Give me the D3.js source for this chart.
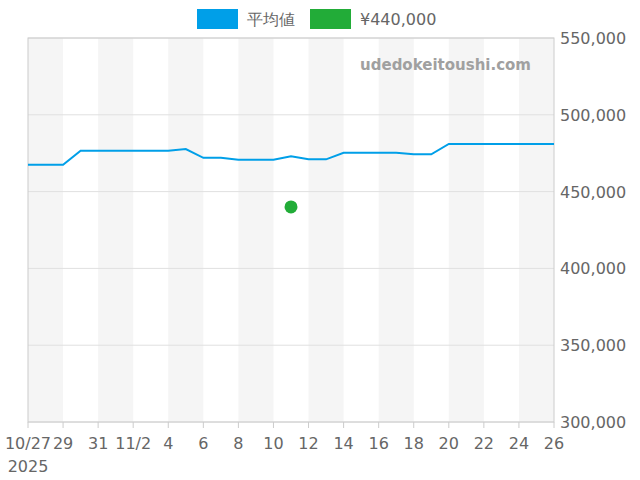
<!DOCTYPE html><html><head><meta charset="utf-8"><script src="https://cdn.jsdelivr.net/npm/d3@7"></script>
<style>body{margin:0}text{font-family:"DejaVu Sans",sans-serif}</style></head><body><svg width="640" height="480"></svg><script>
const dates=["2025-10-27","2025-10-28","2025-10-29","2025-10-30","2025-10-31","2025-11-01","2025-11-02","2025-11-03","2025-11-04","2025-11-05","2025-11-06","2025-11-07","2025-11-08","2025-11-09","2025-11-10","2025-11-11","2025-11-12","2025-11-13","2025-11-14","2025-11-15","2025-11-16","2025-11-17","2025-11-18","2025-11-19","2025-11-20","2025-11-21","2025-11-22","2025-11-23","2025-11-24","2025-11-25","2025-11-26"];
const avg=[467500,467500,467500,476600,476600,476600,476600,476600,476600,477700,472000,472000,470800,470800,470800,473000,471000,471000,475300,475300,475300,475300,474300,474300,481000,481000,481000,481000,481000,481000,481000];
const pointDate="2025-11-11", pointVal=440000;
const yTicks=[300000,350000,400000,450000,500000,550000];
const p=d3.timeParse("%Y-%m-%d");
const svg=d3.select("svg");
const L=28,R=554,T=38,B=422;
const x=d3.scaleTime().domain([p(dates[0]),p(dates[dates.length-1])]).range([L,R]);
const y=d3.scaleLinear().domain([300000,550000]).range([B,T]);
const tickDates=dates.filter((d,i)=>i%2==0).map(p);
for(let i=0;i<tickDates.length-1;i+=2){
 svg.append("rect").attr("x",x(tickDates[i])).attr("y",T).attr("width",x(tickDates[i+1])-x(tickDates[i])).attr("height",B-T).attr("fill","#f5f5f5");
}
yTicks.forEach(v=>svg.append("line").attr("x1",L).attr("x2",R).attr("y1",y(v)).attr("y2",y(v)).attr("stroke","#e0e0e0"));
svg.append("rect").attr("x",L).attr("y",T).attr("width",R-L).attr("height",B-T).attr("fill","none").attr("stroke","#ccc");
const fmt=d3.format(",");
yTicks.forEach(v=>svg.append("text").attr("x",R+6).attr("y",y(v)+6).attr("font-size",16).attr("fill","#666").text(fmt(v)));
tickDates.forEach((d,i)=>{
 svg.append("line").attr("x1",x(d)).attr("x2",x(d)).attr("y1",B).attr("y2",B+6).attr("stroke","#ccc");
 const lab=i==0?"10/27":(d.getDate()==2&&d.getMonth()==10?"11/2":String(d.getDate()));
 svg.append("text").attr("x",x(d)).attr("y",B+27).attr("text-anchor","middle").attr("font-size",16).attr("fill","#666").text(lab);
});
svg.append("text").attr("x",x(tickDates[0])).attr("y",B+50).attr("text-anchor","middle").attr("font-size",16).attr("fill","#666").text("2025");
svg.append("path").datum(avg).attr("fill","none").attr("stroke","#009fe8").attr("stroke-width",2)
 .attr("d",d3.line().x((v,i)=>x(p(dates[i]))).y(v=>y(v)));
svg.append("circle").attr("cx",x(p(pointDate))).attr("cy",y(pointVal)).attr("r",6.5).attr("fill","#22ac38");
svg.append("text").attr("x",531).attr("y",70).attr("text-anchor","end").attr("font-size",15).attr("font-weight","bold").attr("fill","#a0a0a0").text("udedokeitoushi.com");
const lg=[{t:"平均値",c:"#009fe8",x:197},{t:"¥440,000",c:"#22ac38",x:310}];
lg.forEach(o=>{svg.append("rect").attr("x",o.x).attr("y",9).attr("width",41).attr("height",20).attr("fill",o.c);
 svg.append("text").attr("x",o.x+50).attr("y",25).attr("font-size",16).attr("fill","#666").text(o.t);});
</script></body></html>
